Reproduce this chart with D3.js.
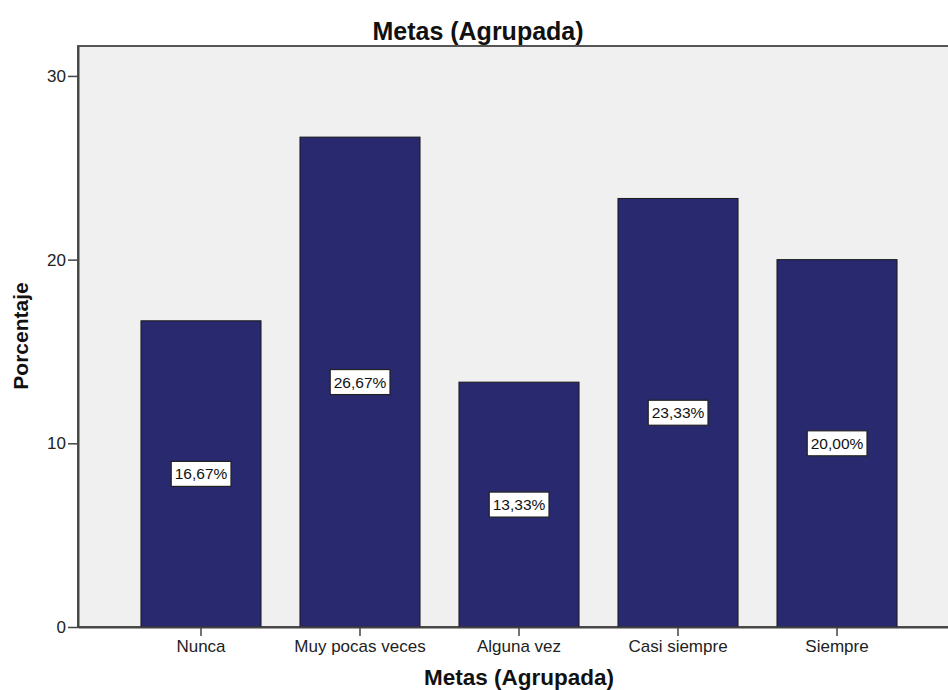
<!DOCTYPE html>
<html>
<head>
<meta charset="utf-8">
<script src="https://cdn.jsdelivr.net/npm/d3@7"></script>
<style>
  html, body { margin: 0; padding: 0; background: #ffffff; }
  svg { display: block; font-family: "Liberation Sans", Arial, sans-serif; }
</style>
</head>
<body>
<svg id="chart" width="948" height="690"></svg>
<script>
// Frequencies of "Metas (Agrupada)" as percentages
const categories = ["Nunca", "Muy pocas veces", "Alguna vez", "Casi siempre", "Siempre"];
const percentages = [16.67, 26.67, 13.33, 23.33, 20.00];
const valueLabels = ["16,67%", "26,67%", "13,33%", "23,33%", "20,00%"];
const yTicks = [0, 10, 20, 30];

const svg = d3.select("#chart");

const plot = { left: 78, top: 46, bottom: 627, right: 960 };

const x = d3.scaleBand()
  .domain(categories)
  .range([plot.left, plot.right])
  .paddingInner(0.245)
  .paddingOuter(0.396);

const y = d3.scaleLinear()
  .domain([0, 31.63])
  .range([plot.bottom, plot.top]);

// plot background
svg.append("rect")
  .attr("x", plot.left)
  .attr("y", plot.top)
  .attr("width", plot.right - plot.left)
  .attr("height", plot.bottom - plot.top)
  .attr("fill", "#f0f0f0")
  .attr("stroke", "#555555")
  .attr("stroke-width", 2);

const rows = categories.map((c, i) => ({ c, v: percentages[i], label: valueLabels[i] }));

// bars
svg.append("g")
  .selectAll("rect")
  .data(rows)
  .join("rect")
  .attr("x", d => x(d.c))
  .attr("y", d => y(d.v))
  .attr("width", x.bandwidth())
  .attr("height", d => y(0) - y(d.v))
  .attr("fill", "#29296f")
  .attr("stroke", "#1a1a1a")
  .attr("stroke-width", 1);

// value labels in white boxes at bar mid-height
const labels = svg.append("g")
  .selectAll("g")
  .data(rows)
  .join("g")
  .attr("transform", d => `translate(${x(d.c) + x.bandwidth() / 2},${y(d.v / 2)})`);

labels.each(function(d) {
  const g = d3.select(this);
  const t = g.append("text")
    .attr("text-anchor", "middle")
    .attr("dy", "0.36em")
    .attr("font-size", 15.5)
    .attr("fill", "#111")
    .text(d.label);
  const bb = t.node().getBBox();
  g.insert("rect", "text")
    .attr("x", bb.x - 3.5)
    .attr("y", -12.5)
    .attr("width", bb.width + 7)
    .attr("height", 25)
    .attr("fill", "#ffffff")
    .attr("stroke", "#222")
    .attr("stroke-width", 1.2);
});

// y axis
const yAxis = svg.append("g")
  .attr("transform", `translate(${plot.left},0)`)
  .call(d3.axisLeft(y).tickValues(yTicks).tickSize(10).tickSizeOuter(0).tickPadding(2).tickFormat(d3.format("d")));
yAxis.select(".domain").attr("stroke", "#444").attr("stroke-width", 2);
yAxis.selectAll(".tick line").attr("stroke", "#444").attr("stroke-width", 1.5);
yAxis.selectAll(".tick text").attr("font-size", 17).attr("fill", "#222")
  .attr("font-family", "'Liberation Sans', Arial, sans-serif");

// x axis
const xAxis = svg.append("g")
  .attr("transform", `translate(0,${plot.bottom})`)
  .call(d3.axisBottom(x).tickSize(9).tickSizeOuter(0).tickPadding(4));
xAxis.select(".domain").attr("stroke", "#444").attr("stroke-width", 2);
xAxis.selectAll(".tick line").attr("stroke", "#444").attr("stroke-width", 1.5);
xAxis.selectAll(".tick text").attr("font-size", 17).attr("fill", "#222")
  .attr("font-family", "'Liberation Sans', Arial, sans-serif");

// titles
svg.append("text")
  .attr("x", 478).attr("y", 40)
  .attr("text-anchor", "middle")
  .attr("font-size", 25).attr("font-weight", "bold").attr("fill", "#111")
  .text("Metas (Agrupada)");

svg.append("text")
  .attr("x", (plot.left + plot.right) / 2).attr("y", 685)
  .attr("text-anchor", "middle")
  .attr("font-size", 22.5).attr("font-weight", "bold").attr("fill", "#111")
  .text("Metas (Agrupada)");

svg.append("text")
  .attr("transform", "translate(28,336) rotate(-90)")
  .attr("text-anchor", "middle")
  .attr("font-size", 21).attr("font-weight", "bold").attr("fill", "#111")
  .text("Porcentaje");
</script>
</body>
</html>
